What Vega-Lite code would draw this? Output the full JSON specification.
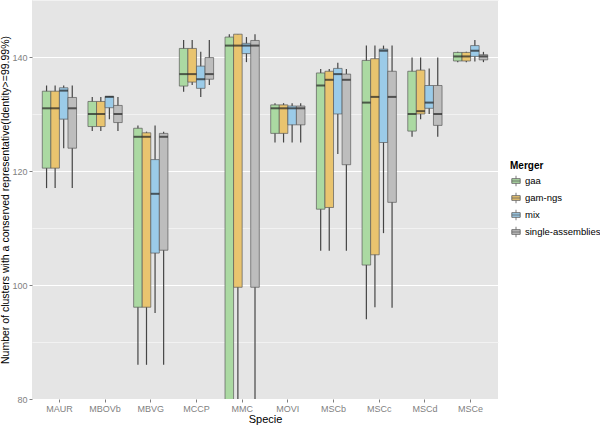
{
  "$schema": "https://vega.github.io/schema/vega-lite/v6.json",
  "width": 466,
  "height": 399,
  "autosize": {"type": "none"},
  "padding": {"left": 32, "top": 0, "right": 102, "bottom": 26},
  "background": "white",
  "config": {
    "font": "Liberation Sans",
    "view": {"fill": "#e5e5e5", "stroke": null},
    "axis": {"domain": false, "tickColor": "#7f7f7f", "tickSize": 3, "labelColor": "#7f7f7f", "labelFontSize": 9, "titleFontSize": 11, "titleFontWeight": "normal", "titleColor": "black", "gridColor": "white", "gridWidth": 1, "labelOverlap": false}
  },
  "data": {
    "values": [
      {"Specie": "MAUR", "Merger": "gaa", "lower": 117, "q1": 120.5, "median": 131, "q3": 134, "upper": 135},
      {"Specie": "MAUR", "Merger": "gam-ngs", "lower": 117, "q1": 120.5, "median": 131, "q3": 134, "upper": 135},
      {"Specie": "MAUR", "Merger": "mix", "lower": 124, "q1": 129.1, "median": 134.1, "q3": 134.6, "upper": 135},
      {"Specie": "MAUR", "Merger": "single-assemblies", "lower": 117, "q1": 124, "median": 131, "q3": 132.9, "upper": 135},
      {"Specie": "MBOVb", "Merger": "gaa", "lower": 127, "q1": 127.8, "median": 130, "q3": 132.2, "upper": 133},
      {"Specie": "MBOVb", "Merger": "gam-ngs", "lower": 127, "q1": 127.8, "median": 130, "q3": 132.2, "upper": 133},
      {"Specie": "MBOVb", "Merger": "mix", "lower": 129.1, "q1": 131.1, "median": 133, "q3": 133.1, "upper": 133.1},
      {"Specie": "MBOVb", "Merger": "single-assemblies", "lower": 127, "q1": 128.5, "median": 130, "q3": 131.5, "upper": 133},
      {"Specie": "MBVG", "Merger": "gaa", "lower": 86, "q1": 96.1, "median": 126, "q3": 127.5, "upper": 128},
      {"Specie": "MBVG", "Merger": "gam-ngs", "lower": 86, "q1": 96.1, "median": 126, "q3": 126.7, "upper": 126.9},
      {"Specie": "MBVG", "Merger": "mix", "lower": 95.1, "q1": 105.6, "median": 116, "q3": 122, "upper": 128},
      {"Specie": "MBVG", "Merger": "single-assemblies", "lower": 86, "q1": 106.1, "median": 126, "q3": 126.6, "upper": 126.9},
      {"Specie": "MCCP", "Merger": "gaa", "lower": 133.9, "q1": 134.9, "median": 137, "q3": 141.5, "upper": 143},
      {"Specie": "MCCP", "Merger": "gam-ngs", "lower": 135.1, "q1": 135.6, "median": 137, "q3": 141.5, "upper": 143},
      {"Specie": "MCCP", "Merger": "mix", "lower": 133, "q1": 134.5, "median": 136.1, "q3": 138.4, "upper": 140.9},
      {"Specie": "MCCP", "Merger": "single-assemblies", "lower": 135.1, "q1": 136.1, "median": 137, "q3": 139.9, "upper": 143},
      {"Specie": "MMC", "Merger": "gaa", "lower": 60, "q1": 70, "median": 142, "q3": 143.5, "upper": 144},
      {"Specie": "MMC", "Merger": "gam-ngs", "lower": 70, "q1": 99.6, "median": 142, "q3": 144, "upper": 144},
      {"Specie": "MMC", "Merger": "mix", "lower": 139.1, "q1": 140.6, "median": 142, "q3": 142.4, "upper": 143.5},
      {"Specie": "MMC", "Merger": "single-assemblies", "lower": 70, "q1": 99.6, "median": 142, "q3": 142.9, "upper": 144},
      {"Specie": "MOVI", "Merger": "gaa", "lower": 125, "q1": 126.6, "median": 131, "q3": 131.6, "upper": 131.9},
      {"Specie": "MOVI", "Merger": "gam-ngs", "lower": 125, "q1": 126.6, "median": 131, "q3": 131.6, "upper": 131.9},
      {"Specie": "MOVI", "Merger": "mix", "lower": 125, "q1": 128.1, "median": 131, "q3": 131.4, "upper": 131.9},
      {"Specie": "MOVI", "Merger": "single-assemblies", "lower": 125, "q1": 128.1, "median": 131, "q3": 131.4, "upper": 131.9},
      {"Specie": "MSCb", "Merger": "gaa", "lower": 106, "q1": 113.3, "median": 135, "q3": 137.2, "upper": 137.9},
      {"Specie": "MSCb", "Merger": "gam-ngs", "lower": 106, "q1": 113.6, "median": 136, "q3": 137.5, "upper": 137.9},
      {"Specie": "MSCb", "Merger": "mix", "lower": 123, "q1": 130, "median": 137, "q3": 138, "upper": 139},
      {"Specie": "MSCb", "Merger": "single-assemblies", "lower": 106, "q1": 121.1, "median": 136, "q3": 137, "upper": 137.9},
      {"Specie": "MSCc", "Merger": "gaa", "lower": 94, "q1": 103.5, "median": 132, "q3": 139.4, "upper": 142},
      {"Specie": "MSCc", "Merger": "gam-ngs", "lower": 96.1, "q1": 105.3, "median": 133, "q3": 139.7, "upper": 142},
      {"Specie": "MSCc", "Merger": "mix", "lower": 109.1, "q1": 125, "median": 141.1, "q3": 141.4, "upper": 142},
      {"Specie": "MSCc", "Merger": "single-assemblies", "lower": 96, "q1": 114.5, "median": 133, "q3": 137.5, "upper": 142},
      {"Specie": "MSCd", "Merger": "gaa", "lower": 126, "q1": 127, "median": 130, "q3": 137.5, "upper": 139.9},
      {"Specie": "MSCd", "Merger": "gam-ngs", "lower": 129.1, "q1": 130, "median": 130.5, "q3": 137.7, "upper": 139.9},
      {"Specie": "MSCd", "Merger": "mix", "lower": 130, "q1": 131, "median": 132, "q3": 135, "upper": 138},
      {"Specie": "MSCd", "Merger": "single-assemblies", "lower": 126, "q1": 128, "median": 130, "q3": 135, "upper": 139.9},
      {"Specie": "MSCe", "Merger": "gaa", "lower": 139.1, "q1": 139.3, "median": 140.1, "q3": 140.8, "upper": 140.9},
      {"Specie": "MSCe", "Merger": "gam-ngs", "lower": 139.1, "q1": 139.3, "median": 140.1, "q3": 140.8, "upper": 140.9},
      {"Specie": "MSCe", "Merger": "mix", "lower": 139.2, "q1": 140.1, "median": 141.1, "q3": 142, "upper": 143},
      {"Specie": "MSCe", "Merger": "single-assemblies", "lower": 139.1, "q1": 139.5, "median": 140.1, "q3": 140.4, "upper": 140.9}
    ]
  },
  "encoding": {
    "x": {"field": "Specie", "type": "nominal", "scale": {"paddingInner": 0, "paddingOuter": 0.1}, "axis": {"title": "Specie", "labelAngle": 0, "bandPosition": 0.5, "titlePadding": 0, "labelPadding": 2}},
    "xOffset": {"field": "Merger", "type": "nominal", "scale": {"paddingInner": 0, "paddingOuter": 0.667}}
  },
  "layer": [
    {
      "mark": {"type": "rule", "color": "#454545", "strokeWidth": 1.2, "clip": true},
      "encoding": {
        "y": {"field": "lower", "type": "quantitative", "scale": {"domain": [80, 150], "nice": false, "zero": false},
          "axis": {"values": [80, 90, 100, 110, 120, 130, 140, 150], "grid": true,
            "gridColor": {"condition": {"test": "datum.value % 20 === 0", "value": "#ffffff"}, "value": "#f2f2f2"},
            "tickOpacity": {"condition": {"test": "datum.value % 20 === 0", "value": 1}, "value": 0},
            "labelExpr": "datum.value % 20 === 0 ? datum.label : ''",
            "labelOverlap": false,
            "title": "Number of clusters with a conserved representative(Identity>=99.99%)", "titlePadding": 1, "labelPadding": 2, "titleFontSize": 10.5}},
        "y2": {"field": "upper"}
      }
    },
    {
      "mark": {"type": "bar", "stroke": "#5a5a5a", "strokeWidth": 0.7, "clip": true},
      "encoding": {
        "y": {"field": "q1", "type": "quantitative"},
        "y2": {"field": "q3"},
        "fill": {"field": "Merger", "type": "nominal", "scale": {"domain": ["gaa", "gam-ngs", "mix", "single-assemblies"], "range": ["#abd9a2", "#e9c46f", "#9bcbe8", "#bdbdbd"]},
          "legend": {"title": "Merger", "orient": "none", "legendX": 478, "legendY": 161, "titleFontSize": 10, "titleFontWeight": "bold", "titleColor": "black", "labelFontSize": 9.5, "labelColor": "black", "symbolType": "M-0.8,-0.45H0.8V0.45H-0.8Z M-0.8,0H0.8 M0,-0.45V-1 M0,0.45V1", "symbolSize": 110, "symbolStrokeColor": "#5a5a5a", "symbolStrokeWidth": 0.8, "rowPadding": 3, "labelOffset": 3, "titlePadding": 4}}
      }
    },
    {
      "mark": {"type": "tick", "color": "#222222", "thickness": 2, "size": 8.6, "clip": true},
      "encoding": {
        "y": {"field": "median", "type": "quantitative"}
      }
    }
  ]
}
